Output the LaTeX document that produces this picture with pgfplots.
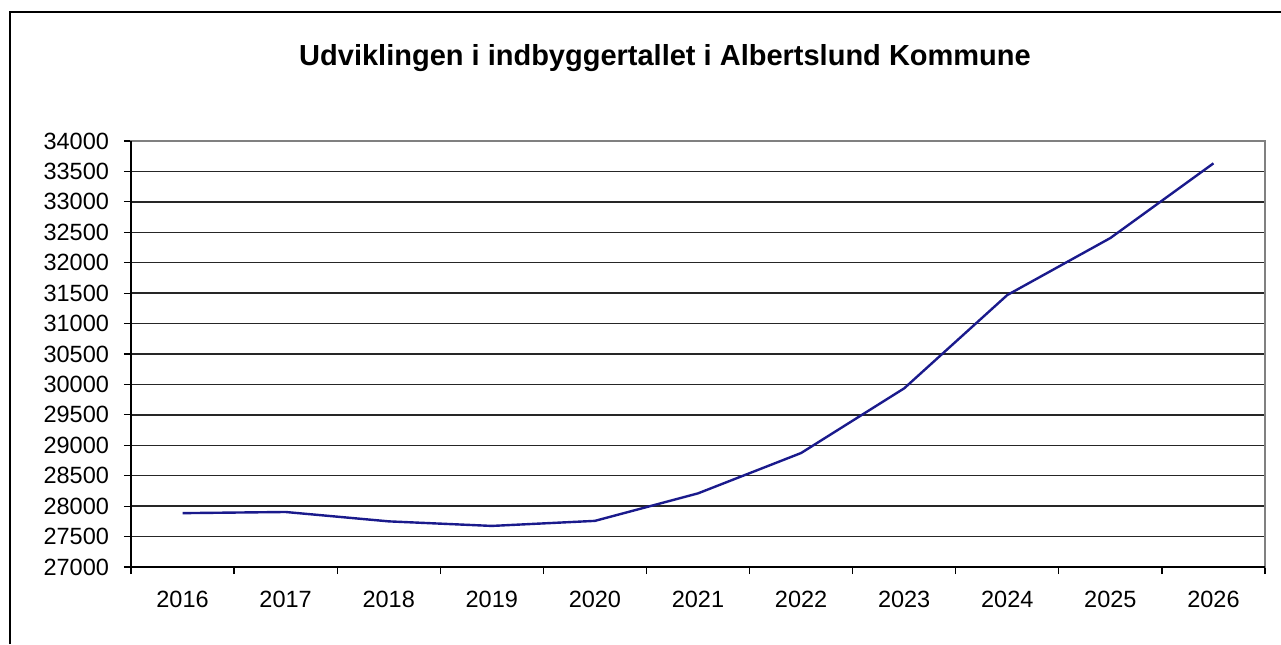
\documentclass[border=0pt]{standalone}
\usepackage{fontspec}
\setmainfont{Liberation Sans}
\usepackage{pgfplots}
\pgfplotsset{compat=1.18}
\definecolor{linjeblaa}{HTML}{1A1A8C}
\definecolor{kant}{HTML}{808080}

\begin{document}
% 1 px of the reference = 0.5pt
\begin{tikzpicture}
\useasboundingbox (0,0) rectangle (640.5pt,322pt);
% outer chart frame
\draw[line width=0.8pt] (5pt,0pt) -- (5pt,316pt) -- (640.5pt,316pt);
\node[font=\bfseries\fontsize{14.5}{17}\selectfont] at (332.5pt,293pt) {Udviklingen i indbyggertallet i Albertslund Kommune};
\begin{axis}[
  at={(65.5pt,38.5pt)}, anchor=south west,
  scale only axis, width=567pt, height=213pt,
  xmin=-0.5, xmax=10.5, ymin=27000, ymax=34000,
  ytick={27000,27500,...,34000},
  scaled y ticks=false,
  xtick={0,...,10},
  xticklabels={2016,2017,2018,2019,2020,2021,2022,2023,2024,2025,2026},
  minor xtick={-0.5,0.5,...,10.5},
  tick align=outside,
  major x tick style={draw=none},
  minor tick length=3.5pt, major tick length=3.5pt,
  tick style={black, line width=0.6pt},
  xtick pos=bottom, ytick pos=left,
  ymajorgrids, grid style={black!85, line width=0.7pt},
  axis line style={kant, line width=0.8pt},
  ticklabel style={font=\fontsize{11.75}{14}\selectfont},
  /pgf/number format/assume math mode=true,
  yticklabel style={xshift=-4pt, /pgf/number format/fixed, /pgf/number format/1000 sep={}},
  xticklabel style={yshift=-5pt},
  clip=false,
]
\addplot[linjeblaa, line width=1.2pt] coordinates {
  (0,27885) (1,27904) (2,27750) (3,27675) (4,27758) (5,28210)
  (6,28873) (7,29936) (8,31469) (9,32406) (10,33633)
};
\draw[black, line width=0.8pt] (rel axis cs:0,1) -- (rel axis cs:0,0) -- (rel axis cs:1,0);
\end{axis}
\end{tikzpicture}
\end{document}
